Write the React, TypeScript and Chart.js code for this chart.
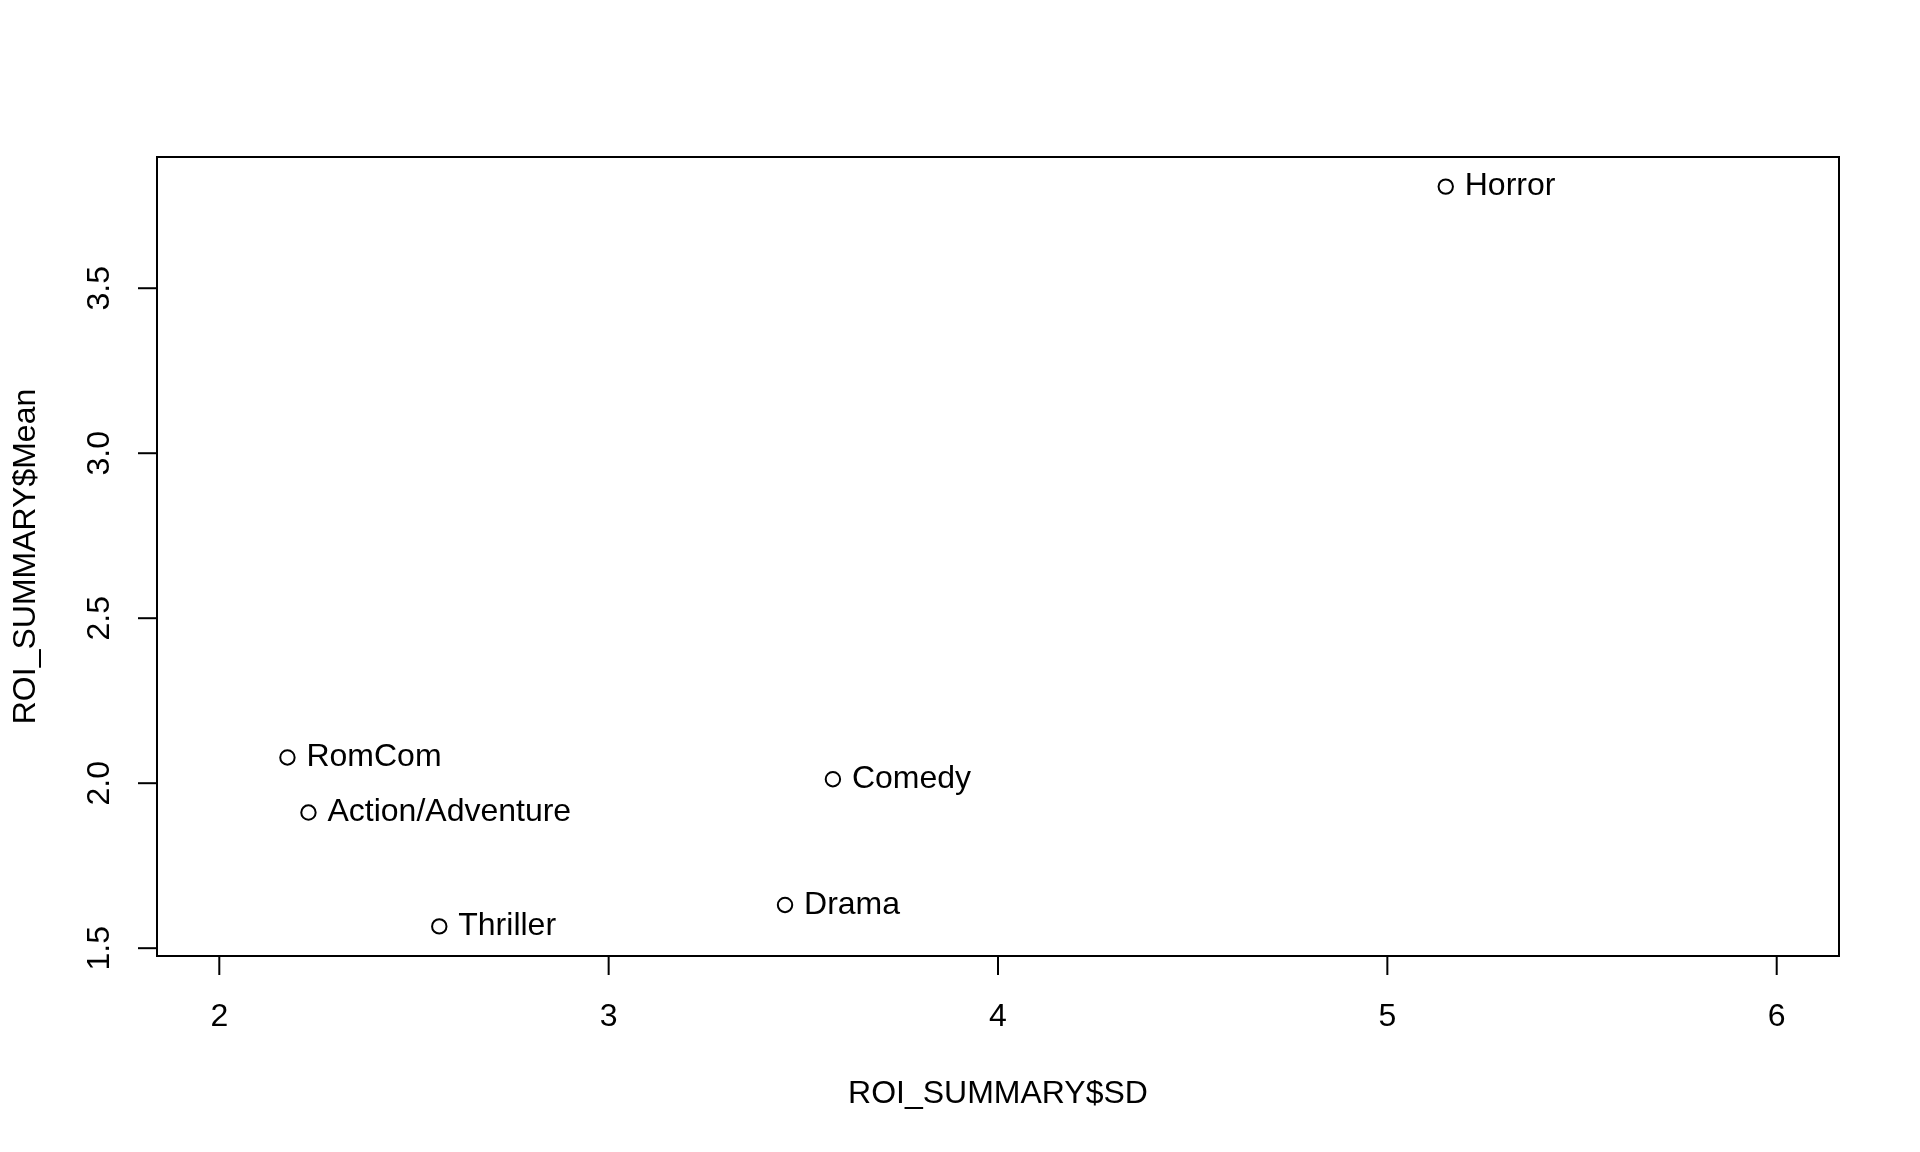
import React, { useEffect, useRef } from "react";
import { Chart, registerables } from "chart.js";

Chart.register(...registerables);

// ---- data ----
const GENRES = ["Action/Adventure", "Comedy", "Drama", "Horror", "RomCom", "Thriller"];
const ROI_SD = [2.229, 3.576, 3.453, 5.15, 2.175, 2.565];
const ROI_MEAN = [1.911, 2.012, 1.631, 3.808, 2.078, 1.566];
const X_LIMITS = [2, 6];
const X_TICKS = [2, 3, 4, 5, 6];
const X_TICK_LABELS = ["2", "3", "4", "5", "6"];
const Y_TICKS = [1.5, 2.0, 2.5, 3.0, 3.5];
const Y_TICK_LABELS = ["1.5", "2.0", "2.5", "3.0", "3.5"];
const X_TITLE = "ROI_SUMMARY$SD";
const Y_TITLE = "ROI_SUMMARY$Mean";

const FONT = "32px 'Liberation Sans', Arial, Helvetica, sans-serif";

function extend(lo: number, hi: number): [number, number] {
  const d = (hi - lo) * 0.04;
  return [lo - d, hi + d];
}

const rStylePlugin = {
  id: "rStyle",
  afterDatasetsDraw(chart: any) {
    const { ctx, chartArea } = chart;
    const { left, right, top, bottom } = chartArea;
    const xs = chart.scales.x;
    const ys = chart.scales.y;
    ctx.save();
    ctx.strokeStyle = "#000";
    ctx.fillStyle = "#000";
    ctx.lineWidth = 2;
    ctx.font = FONT;

    // box
    ctx.strokeRect(left, top, right - left, bottom - top);

    const tick = 19;
    // x axis
    const x0 = xs.getPixelForValue(X_TICKS[0]);
    const x1 = xs.getPixelForValue(X_TICKS[X_TICKS.length - 1]);
    ctx.beginPath();
    ctx.moveTo(x0, bottom);
    ctx.lineTo(x1, bottom);
    ctx.stroke();
    ctx.textAlign = "center";
    ctx.textBaseline = "alphabetic";
    X_TICKS.forEach((v, i) => {
      const px = xs.getPixelForValue(v);
      ctx.beginPath();
      ctx.moveTo(px, bottom);
      ctx.lineTo(px, bottom + tick);
      ctx.stroke();
      ctx.fillText(X_TICK_LABELS[i], px, bottom + 70);
    });
    ctx.fillText(X_TITLE, (left + right) / 2, bottom + 146.5);

    // y axis
    const y0 = ys.getPixelForValue(Y_TICKS[0]);
    const y1 = ys.getPixelForValue(Y_TICKS[Y_TICKS.length - 1]);
    ctx.beginPath();
    ctx.moveTo(left, y0);
    ctx.lineTo(left, y1);
    ctx.stroke();
    Y_TICKS.forEach((v, i) => {
      const py = ys.getPixelForValue(v);
      ctx.beginPath();
      ctx.moveTo(left, py);
      ctx.lineTo(left - tick, py);
      ctx.stroke();
      ctx.save();
      ctx.translate(left - 48, py);
      ctx.rotate(-Math.PI / 2);
      ctx.fillText(Y_TICK_LABELS[i], 0, 0);
      ctx.restore();
    });
    ctx.save();
    ctx.translate(left - 122.5, (top + bottom) / 2);
    ctx.rotate(-Math.PI / 2);
    ctx.fillText(Y_TITLE, 0, 0);
    ctx.restore();

    // point labels (pos = 4)
    ctx.textAlign = "left";
    const meta = chart.getDatasetMeta(0);
    meta.data.forEach((el: any, i: number) => {
      ctx.fillText(GENRES[i], el.x + 19, el.y + 8.6);
    });

    ctx.restore();
  },
};

export default function App() {
  const ref = useRef<HTMLCanvasElement | null>(null);

  useEffect(() => {
    document.body.style.margin = "0";
    const canvas = ref.current;
    if (!canvas) return;
    const [xmin, xmax] = extend(X_LIMITS[0], X_LIMITS[1]);
    const [ymin, ymax] = extend(Math.min(...ROI_MEAN), Math.max(...ROI_MEAN));
    const chart = new Chart(canvas, {
      type: "scatter",
      data: {
        datasets: [
          {
            data: GENRES.map((_, i) => ({ x: ROI_SD[i], y: ROI_MEAN[i] })),
            pointStyle: "circle",
            pointRadius: 7.2,
            pointBorderWidth: 2,
            borderColor: "#000",
            backgroundColor: "rgba(0,0,0,0)",
            pointBackgroundColor: "rgba(0,0,0,0)",
            pointBorderColor: "#000",
            showLine: false,
          } as any,
        ],
      },
      options: {
        animation: false,
        responsive: false,
        devicePixelRatio: 1,
        layout: { padding: { left: 157, top: 157, right: 81, bottom: 196 } },
        plugins: { legend: { display: false }, tooltip: { enabled: false } },
        scales: {
          x: { type: "linear", display: false, min: xmin, max: xmax },
          y: { type: "linear", display: false, min: ymin, max: ymax },
        },
      },
      plugins: [rStylePlugin],
    });
    return () => chart.destroy();
  }, []);

  return (
    <div style={{ width: 1920, height: 1152, background: "#fff" }}>
      <canvas ref={ref} width={1920} height={1152} style={{ display: "block" }} />
    </div>
  );
}
